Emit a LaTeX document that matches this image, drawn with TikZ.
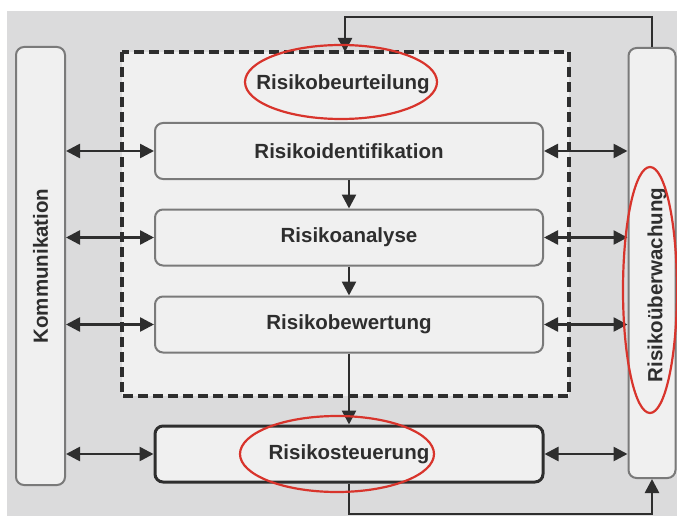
\documentclass[tikz,border=0pt]{standalone}
\usepackage{fontspec}
\setmainfont{Liberation Sans}
\usepackage{tikz}
\usetikzlibrary{shapes.geometric, arrows.meta, positioning, calc}

\definecolor{bggrey}{HTML}{DBDBDC}
\definecolor{boxgrey}{HTML}{F0F0F0}
\definecolor{edgegrey}{HTML}{7A7A7A}
\definecolor{inkgrey}{HTML}{2E2E2E}
\definecolor{ringred}{HTML}{D8342C}

\begin{document}
\begin{tikzpicture}[
    x=1pt, y=-1pt,
    font=\fontsize{20.5}{24}\selectfont\bfseries,
    riskbox/.style={rectangle, rounded corners=8pt, draw=edgegrey, line width=2pt, fill=boxgrey, text=inkgrey, minimum width=388pt, minimum height=56pt, align=center},
    sidebox/.style={rectangle, rounded corners=8pt, draw=edgegrey, line width=2pt, fill=boxgrey, text=inkgrey, rotate=90, align=center},
    redring/.style={ellipse, draw=ringred, line width=2.2pt},
    arrow/.style={-{Triangle[length=14pt,width=14pt]}, line width=2.6pt, draw=inkgrey},
    dblarrow/.style={{Triangle[length=14pt,width=14pt]}-{Triangle[length=14pt,width=14pt]}, line width=2.6pt, draw=inkgrey}
]
    \useasboundingbox (0,0) rectangle (677,516);
    \fill[bggrey] (7,11) rectangle (677,516);

    % Risikobeurteilung
    \draw[dash pattern=on 10pt off 5pt, line width=3.2pt, draw=inkgrey, fill=boxgrey] (122,52) rectangle (569,396);
    \node[text=inkgrey] (beurt) at (343,84) {Risikobeurteilung};

    \node[riskbox] (ident) at (349,151) {Risikoidentifikation};
    \node[riskbox] (analyse) at (349,237.5) {Risikoanalyse};
    \node[riskbox] (bewert) at (349,324.5) {Risikobewertung};
    \node[riskbox, draw=inkgrey, line width=3pt] (steuer) at (349,454) {Risikosteuerung};

    \node[sidebox, minimum width=438pt, minimum height=49pt] (kom) at (40.5,266) {Kommunikation};
    \node[sidebox, minimum width=430pt, minimum height=47pt] (ueber) at (652,263) {};
    \node[rotate=90, text=inkgrey] (uebertext) at (657,285) {Risikoüberwachung};

    \draw[arrow] (ident) -- (analyse);
    \draw[arrow] (analyse) -- (bewert);
    \draw[arrow] (bewert) -- (steuer);

    \foreach \n in {ident, analyse, bewert, steuer} {
        \draw[dblarrow] (\n.west -| kom.south) -- (\n.west);
        \draw[dblarrow] (\n.east) -- (\n.east -| ueber.north);
    }

    % Rueckkopplung
    \coordinate (topin) at (345,52);
    \coordinate (toploop) at (345,17);
    \draw[arrow] (ueber.east) |- (toploop) -- (topin);
    \draw[arrow] (steuer.south) |- ($(ueber.west)+(0,35)$) -- (ueber.west);

    \node[redring, minimum width=192pt, minimum height=74pt] (ring1) at (341,82) {};
    \node[redring, minimum width=194pt, minimum height=76pt] (ring2) at (337,454) {};
    \node[redring, minimum width=54pt, minimum height=246pt] (ring3) at (650,290) {};
\end{tikzpicture}
\end{document}
